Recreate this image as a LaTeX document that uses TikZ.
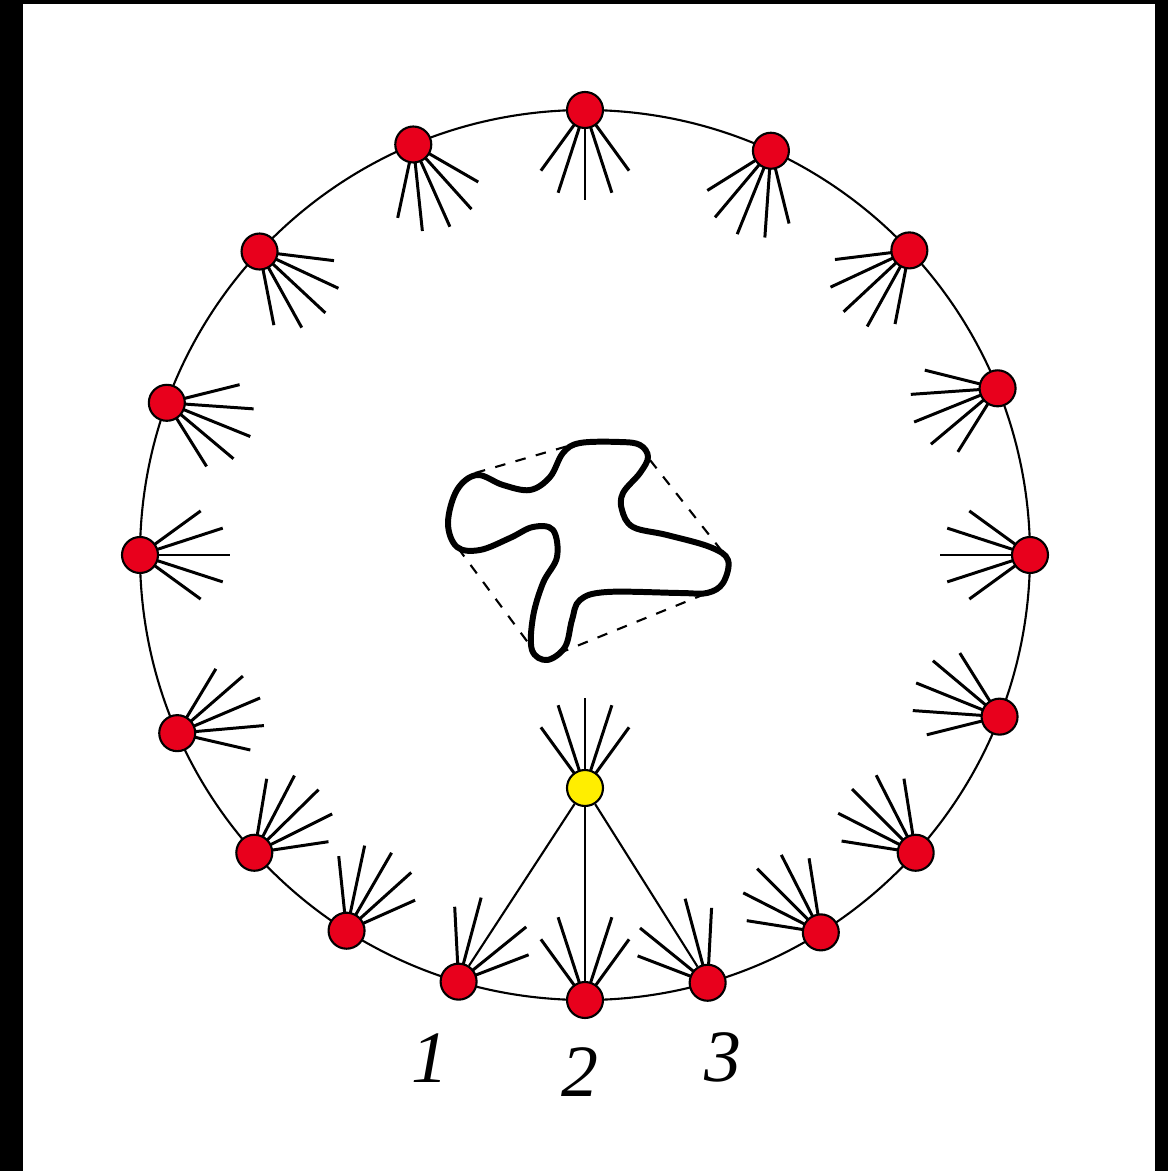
\documentclass[tikz,border=0pt]{standalone}
\usepackage{fontspec}
\setmainfont{Liberation Serif}
\usetikzlibrary{positioning, calc}
\definecolor{rosso}{RGB}{232,0,28}
\definecolor{giallo}{RGB}{255,238,0}
\tikzset{
    rete/.style={line width=0.6pt},
    raggio/.style={line width=0.85pt},
    nodorosso/.style={circle, draw=black, line width=0.6pt, fill=rosso, minimum size=0.36cm, inner sep=0pt},
    nodogiallo/.style={nodorosso, fill=giallo},
    etich/.style={font=\fontsize{21}{24}\selectfont\itshape, inner sep=0pt}
}
% ventaglio di raggi: [offset/lunghezza]{punto}{direzione}
\newcommand{\ventaglio}[3][-36/0.75,-18/0.87,0/0.90,18/0.87,36/0.75]{%
    \foreach \o/\l in {#1} \draw[raggio] (#2) --++ ({(#3)+(\o)}:\l);}
\begin{document}
\begin{tikzpicture}
        %cornice
        \fill[black] (-5.85,-6.16) rectangle (5.83,5.55);
        \fill[white] (-5.62,-6.16) rectangle (5.70,5.51);
        \useasboundingbox (-5.85,-6.16) rectangle (5.83,5.55);
        %anello
        \draw[rete] (0,0) circle (4.45);
        \foreach \a/\d [count=\i] in {90/-90, 65.3/-112, 43.2/-137, 22/-158, 0/180, -21.3/158, -42/135, -58/135, -74/123, -90/90, -106.5/57, -122.4/60, -138/44.5, -156.4/23, 180/0, 160/-22, 137/-43, 112.7/-66}
            {\coordinate (p\i) at (\a:4.45);
             \ifnum\i=9\relax\else\ifnum\i=10\relax\else\ifnum\i=11\relax\else
                \ventaglio{p\i}{\d}\fi\fi\fi}
        %nodi 1, 2, 3 e nodo centrale
        \coordinate (q) at (0,-2.33);
        \ventaglio[-36/0.75,-18/0.87,18/0.87,36/0.75]{p9}{123}
        \ventaglio[-36/0.75,-18/0.87,18/0.87,36/0.75]{p10}{90}
        \ventaglio[-36/0.75,-18/0.87,18/0.87,36/0.75]{p11}{57}
        \ventaglio{q}{90}
        \foreach \i in {1,...,18} \node[nodorosso] (n\i) at (p\i) {};
        \node[nodogiallo] (y) at (q) {};
        \draw[rete] (y) -- (n11);
        \draw[rete] (y) -- (n10);
        \draw[rete] (y) -- (n9);
        \node[etich] (l1) at ($(n11)+(-0.29,-0.76)$) {1};
        \node[etich] (l2) at ($(n10)+(-0.05,-0.72)$) {2};
        \node[etich] (l3) at ($(n9)+(0.15,-0.75)$) {3};
        %macchia e inviluppo
        \draw[line width=1.7pt, line join=round] plot[smooth cycle, tension=0.6] coordinates {
            (-1.08,0.80) (-0.82,0.70) (-0.55,0.65) (-0.35,0.78) (-0.22,1.02) (-0.05,1.12)
            (0.35,1.13) (0.55,1.10) (0.63,0.98) (0.55,0.82) (0.38,0.62) (0.37,0.45)
            (0.48,0.28) (0.82,0.20) (1.25,0.08) (1.43,-0.05) (1.38,-0.28) (1.22,-0.38)
            (0.95,-0.38) (0.22,-0.37) (-0.05,-0.45) (-0.13,-0.65) (-0.20,-0.92) (-0.38,-1.05)
            (-0.53,-0.95) (-0.52,-0.62) (-0.42,-0.28) (-0.28,-0.02) (-0.32,0.25) (-0.52,0.28)
            (-0.75,0.17) (-1.05,0.05) (-1.28,0.08) (-1.37,0.32) (-1.28,0.65)};
        \draw[dashed, line width=0.6pt] (-1.10,0.82) -- (-0.17,1.09);
        \draw[dashed, line width=0.6pt] (0.65,0.95) -- (1.40,0.00);
        \draw[dashed, line width=0.6pt] (1.20,-0.39) -- (-0.23,-0.97);
        \draw[dashed, line width=0.6pt] (-1.27,0.07) -- (-0.50,-0.97);
    \end{tikzpicture}
\end{document}
